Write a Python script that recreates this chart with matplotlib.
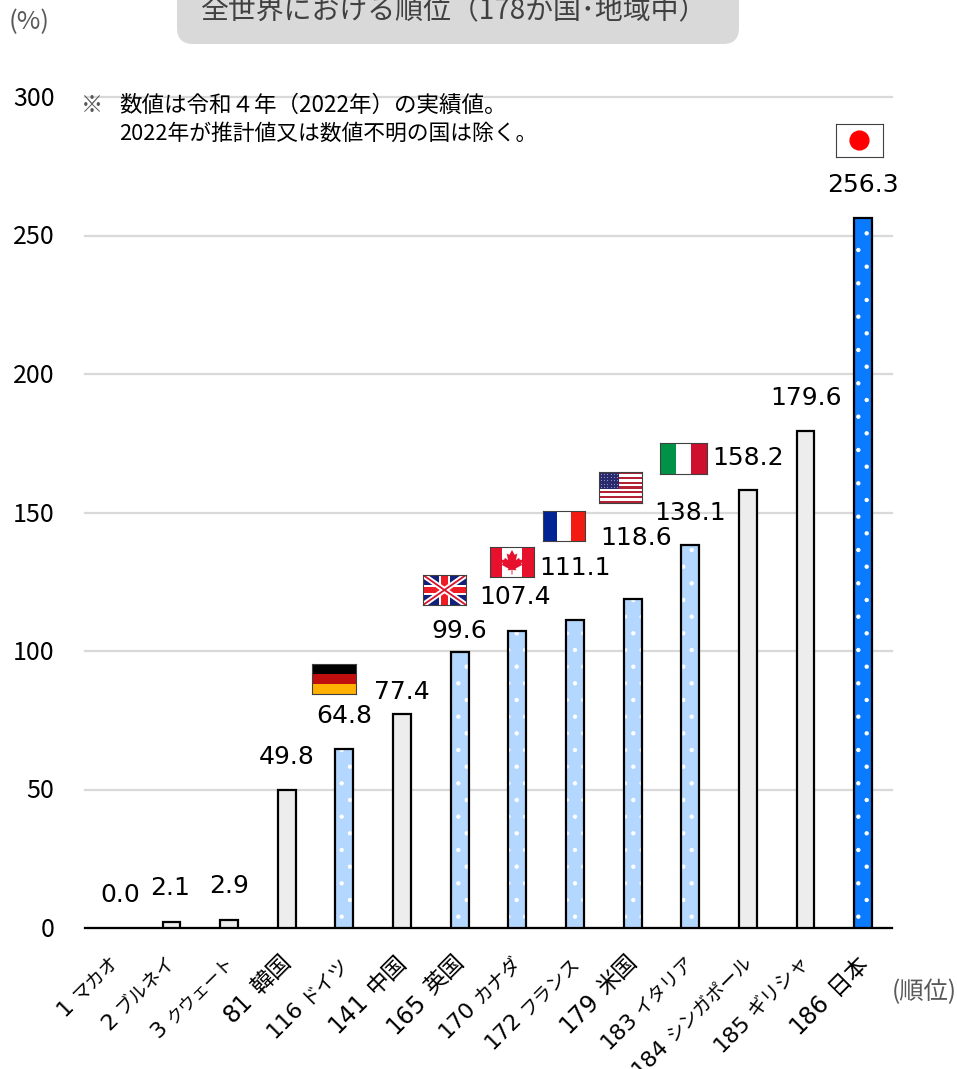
#!/usr/bin/env python3

import matplotlib
matplotlib.use("Agg")
import matplotlib.pyplot as plt
from matplotlib.patches import Ellipse, FancyBboxPatch, Polygon, Rectangle
from matplotlib.transforms import ScaledTranslation

plt.rcParams['font.family'] = ['Noto Sans CJK JP', 'DejaVu Sans']
plt.rcParams['hatch.linewidth'] = 0.7

W, H = 957, 1069

ranks = [1, 2, 3, 81, 116, 141, 165, 170, 172, 179, 183, 184, 185, 186]
countries = ["マカオ", "ブルネイ", "クウェート", "韓国", "ドイツ", "中国", "英国", "カナダ",
             "フランス", "米国", "イタリア", "シンガポール", "ギリシャ", "日本"]
values = [0.0, 2.1, 2.9, 49.8, 64.8, 77.4, 99.6, 107.4, 111.1, 118.6, 138.1,
          158.2, 179.6, 256.3]
g7 = [False, False, False, False, True, False, True, True, True, True, True,
      False, False, False]
yticks = [0, 50, 100, 150, 200, 250, 300]

# label centre relative to top of bar, pixels (x right, y up)
label_dx = [6, -1, 0, 0, 0, 0, 0, -2, 0, 4, 0, 0, 1, 0]
label_dy = [33, 34, 34, 33, 33, 22, 21, 34, 52, 61, 32, 32, 33, 33]
# the kana in the original are narrow, so each name gets its own size
name_sizes = [13.5, 13.5, 12.5, 16.5, 14, 16.5, 16.5, 14, 13.5, 16.5, 13.5, 13.5, 14, 16.5]


def fx(px):
    return px / W


def fy(py):
    return 1 - py / H


def flag_axes(x0, y0, x1, y1):
    a = fig.add_axes([fx(x0), fy(y1), fx(x1 - x0), (y1 - y0) / H], zorder=5)
    a.set_xlim(0, 1)
    a.set_ylim(0, 1)
    a.set_xticks([])
    a.set_yticks([])
    for s in a.spines.values():
        s.set_linewidth(0.8)
        s.set_color("#404040")
    return a


fig = plt.figure(figsize=(W / 100, H / 100), dpi=100)
ax = fig.add_axes([fx(85), fy(928), fx(892 - 85), (928 - 97) / H])

x = list(range(len(values)))
for i, v in enumerate(values):
    if i == len(values) - 1:
        ax.bar(i, v, 0.31, color="#0A7BFF", edgecolor="white", hatch=".", lw=0, zorder=3)
    elif g7[i]:
        ax.bar(i, v, 0.31, color="#B3D7FF", edgecolor="white", hatch=".", lw=0, zorder=3)
    else:
        ax.bar(i, v, 0.31, color="#EDEDED", lw=0, zorder=3)
    if v > 0:
        ax.bar(i, v, 0.31, fill=False, edgecolor="black", lw=1.6, zorder=4)

for i, v in enumerate(values):
    ax.annotate("%.1f" % v, (i, v), xytext=(label_dx[i] * 0.72, label_dy[i] * 0.72),
                textcoords="offset points", ha="center", va="center",
                fontsize=18, family="DejaVu Sans", color="black", zorder=6,
                annotation_clip=False)

ax.set_xlim(-0.5, len(values) - 0.5)
ax.set_ylim(0, 300)
ax.set_yticks(yticks)
ax.yaxis.grid(True, color="#D9D9D9", lw=1.6, zorder=0, clip_on=False)
ax.set_axisbelow(True)
for s in ["top", "right", "left"]:
    ax.spines[s].set_visible(False)
ax.spines["bottom"].set_linewidth(1.6)
ax.tick_params(axis="y", length=0, pad=22, labelsize=18)
ax.tick_params(axis="x", length=0)
ax.set_xticks(x)
ax.set_xticklabels([])
up = ScaledTranslation(0, 1 / 100, fig.dpi_scale_trans)
for lab in ax.get_yticklabels():
    lab.set_verticalalignment("center_baseline")
    lab.set_transform(lab.get_transform() + up)

# category labels: rank and name in two sizes along the same 45 degree line
for i, (r, c) in enumerate(zip(ranks, countries)):
    ax.annotate(c, (i, 0), xycoords=("data", "axes fraction"),
                xytext=(1 * 0.72, -31 * 0.72), textcoords="offset points",
                rotation=45, rotation_mode="anchor", ha="right", va="center",
                fontsize=name_sizes[i], annotation_clip=False)
    gap = 9 if len(c) == 2 else 6
    back = (len(c) * name_sizes[i] * 100 / 72 + gap) * 0.7071
    ax.annotate(str(r), (i, 0), xycoords=("data", "axes fraction"),
                xytext=((1 - back) * 0.72, (-31 - back) * 0.72), textcoords="offset points",
                rotation=45, rotation_mode="anchor", ha="right", va="center",
                fontsize=17 if len(c) == 2 else 16, family="DejaVu Sans", annotation_clip=False)

# title box runs off the top of the picture
box_ax = fig.add_axes([0, 0, 1, 1], zorder=1)
box_ax.set_xlim(0, W)
box_ax.set_ylim(H, 0)
box_ax.axis("off")
box_ax.add_patch(FancyBboxPatch((177, -40), 562, 84, boxstyle="round,pad=0,rounding_size=16",
                                facecolor="#D9D9D9", lw=0))

fig.text(fx(454), fy(11), "全世界における順位（178か国･地域中）", ha="center", va="center",
         fontsize=20.1, color="#404040", zorder=3)
fig.text(fx(29), fy(22), "(%)", ha="center", va="center", fontsize=18.5, color="#595959")
fig.text(fx(92), fy(105), "※", ha="center", va="center", fontsize=16, color="#595959", zorder=3)
fig.text(fx(119), fy(105), "数値は令和４年（2022年）の実績値。", ha="left", va="center",
         fontsize=16.2, color="black", zorder=3)
fig.text(fx(119), fy(134), "2022年が推計値又は数値不明の国は除く。", ha="left", va="center",
         fontsize=15.7, color="black", zorder=3)
fig.text(fx(892), fy(992), "(順位)", ha="left", va="center", fontsize=17.5, color="#595959")

# flags
a = flag_axes(836, 124, 883, 157)
a.add_patch(Rectangle((0, 0), 1, 1, color="white"))
a.add_patch(Ellipse((0.5, 0.5), 0.4, 0.57, color="#FF0000"))

a = flag_axes(660, 443, 707, 474)
a.add_patch(Rectangle((0, 0), 1 / 3, 1, color="#009246", lw=0))
a.add_patch(Rectangle((2 / 3, 0), 1 / 3, 1, color="#CE0F2D", lw=0))

a = flag_axes(599, 472, 642, 503)
for k in range(13):
    a.add_patch(Rectangle((0, k / 13), 1, 1 / 13, color="#B22234" if k % 2 == 0 else "white", lw=0))
a.add_patch(Rectangle((0, 6 / 13), 0.46, 7 / 13, color="#2A2A6E", lw=0))
for r in range(5):
    for c in range(6):
        a.plot((c + 0.5) * 0.46 / 6, 6 / 13 + (r + 0.5) * (7 / 13) / 5, ".", color="#D8D8F0", ms=1, mew=0)

a = flag_axes(543, 511, 585, 541)
a.add_patch(Rectangle((0, 0), 1 / 3, 1, color="#002395", lw=0))
a.add_patch(Rectangle((2 / 3, 0), 1 / 3, 1, color="#F31A12", lw=0))

a = flag_axes(490, 547, 534, 577)
a.add_patch(Rectangle((0, 0), 0.27, 1, color="#E8112D", lw=0))
a.add_patch(Rectangle((0.73, 0), 0.27, 1, color="#E8112D", lw=0))
leaf = [(0.5, 0.9), (0.44, 0.74), (0.38, 0.78), (0.41, 0.56), (0.34, 0.64), (0.32, 0.57),
        (0.25, 0.58), (0.29, 0.44), (0.26, 0.41), (0.42, 0.28), (0.40, 0.22), (0.49, 0.24),
        (0.49, 0.08), (0.51, 0.08), (0.51, 0.24), (0.60, 0.22), (0.58, 0.28), (0.74, 0.41),
        (0.71, 0.44), (0.75, 0.58), (0.68, 0.57), (0.66, 0.64), (0.59, 0.56), (0.62, 0.78),
        (0.56, 0.74)]
a.add_patch(Polygon(leaf, color="#E8112D", lw=0))

a = flag_axes(423, 575, 466, 605)
a.set_facecolor("#12207A")
a.plot([0, 1], [0, 1], color="white", lw=4)
a.plot([0, 1], [1, 0], color="white", lw=4)
a.plot([0, 1], [0, 1], color="#D8122A", lw=1.3)
a.plot([0, 1], [1, 0], color="#D8122A", lw=1.3)
a.add_patch(Rectangle((0.38, 0), 0.24, 1, color="white", lw=0))
a.add_patch(Rectangle((0, 0.33), 1, 0.34, color="white", lw=0))
a.add_patch(Rectangle((0.43, 0), 0.14, 1, color="#EE1C25", lw=0))
a.add_patch(Rectangle((0, 0.39), 1, 0.22, color="#EE1C25", lw=0))

a = flag_axes(312, 664, 356, 694)
a.add_patch(Rectangle((0, 2 / 3), 1, 1 / 3, color="black", lw=0))
a.add_patch(Rectangle((0, 1 / 3), 1, 1 / 3, color="#C00D0D", lw=0))
a.add_patch(Rectangle((0, 0), 1, 1 / 3, color="#FFB000", lw=0))

fig.savefig("out.png", dpi=100)
